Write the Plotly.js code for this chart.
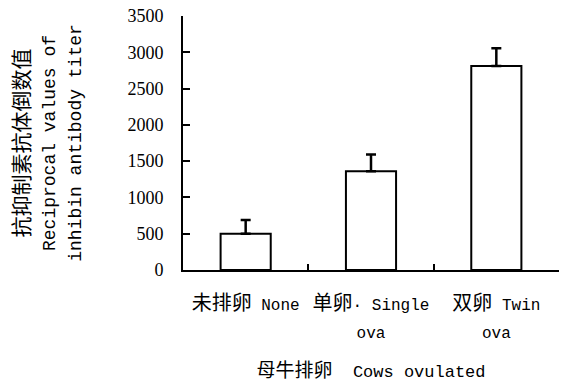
<!DOCTYPE html>
<html>
<head>
<meta charset="utf-8">
<script src="https://cdn.plot.ly/plotly-3.0.1.min.js"></script>
<style>html,body{margin:0;padding:0;background:#fff;}#chart{width:561px;height:383px;}</style>
</head>
<body>
<div id="chart"></div>
<script>
const categories = ['None', 'Single ova', 'Twin ova'];
const tickLabels = [
  '<span style="font-size:20px">未排卵</span><span style="font-size:16px"> None</span>',
  '<span style="font-size:20px">单卵</span><span style="font-size:16px">· Single</span><br><span style="font-size:16px">ova</span>',
  '<span style="font-size:20px">双卵</span><span style="font-size:16px"> Twin</span><br><span style="font-size:16px">ova</span>'
];
const titerMeans = [500, 1360, 2810];
const titerErrors = [190, 230, 245];
const yTicks = [0, 500, 1000, 1500, 2000, 2500, 3000, 3500];

const mono = '"Liberation Mono", "Noto Sans CJK SC", monospace';
const serif = '"Liberation Serif", serif';

const trace = {
  type: 'bar',
  x: categories,
  y: titerMeans,
  width: 0.4,
  marker: {color: '#ffffff', line: {color: '#000000', width: 2}},
  error_y: {type: 'data', symmetric: false, array: titerErrors, arrayminus: [0,0,0], color: '#000000', thickness: 2.5, width: 5}
};

const layout = {
  width: 561, height: 383,
  margin: {l: 183, r: 2, t: 16, b: 113},
  paper_bgcolor: '#ffffff', plot_bgcolor: '#ffffff',
  showlegend: false,
  xaxis: {
    type: 'category',
    range: [-0.5, 2.5],
    tickvals: categories,
    ticktext: tickLabels,
    tickangle: 0,
    tickson: 'boundaries',
    ticks: 'inside', ticklen: 6, tickwidth: 2, tickcolor: '#000',
    showline: true, linecolor: '#000', linewidth: 2,
    showgrid: false, zeroline: false,
    tickfont: {family: mono, size: 21, color: '#000'},
    ticklabelstandoff: 13,
    title: {text: '母牛排卵<span style="font-size:17px">  Cows ovulated</span>', font: {family: mono, size: 19, color: '#000'}, standoff: 25}
  },
  yaxis: {
    range: [0, 3500],
    tickvals: yTicks,
    ticks: 'inside', ticklen: 7, tickwidth: 2, tickcolor: '#000',
    showline: true, linecolor: '#000', linewidth: 2,
    showgrid: false, zeroline: false,
    tickfont: {family: serif, size: 18, color: '#000'},
    ticklabelstandoff: 14,
    title: {text: '<span style="font-size:21px">抗抑制素抗体倒数值</span><br><span style="font-size:18px">Reciprocal values of</span><br><span style="font-size:18px">inhibin antibody titer</span>', font: {family: mono, size: 20, color: '#000'}, standoff: 40}
  }
};

Plotly.newPlot('chart', [trace], layout, {displayModeBar: false, staticPlot: true});
</script>
</body>
</html>
